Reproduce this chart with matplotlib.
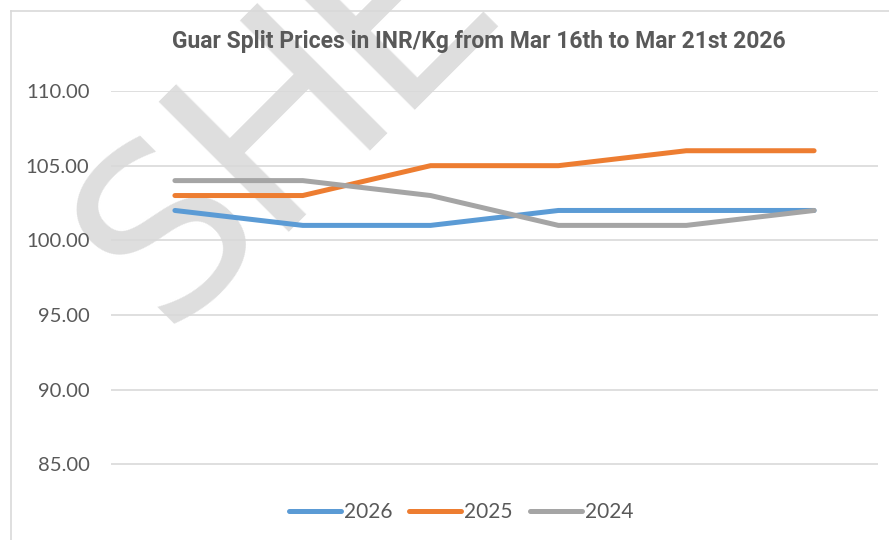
import matplotlib
matplotlib.use('Agg')
import matplotlib.pyplot as plt
from matplotlib.lines import Line2D

plt.rcParams['font.family'] = ['Lato', 'DejaVu Sans']

days = ['16-Mar', '17-Mar', '18-Mar', '19-Mar', '20-Mar', '21-Mar']
price_2026 = [102, 101, 101, 102, 102, 102]
price_2025 = [103, 103, 105, 105, 106, 106]
price_2024 = [104, 104, 103, 101, 101, 102]
y_ticks = [85, 90, 95, 100, 105, 110]
title = 'Guar Split Prices in INR/Kg from Mar 16th to Mar 21st 2026'

W, H = 889, 540
fig = plt.figure(figsize=(W / 100, H / 100), dpi=100)

# watermark letters (pixel origin, size), baseline rotated 45 deg, behind everything
wm = [('S', 165, 330, 168), ('H', 264, 232, 181), ('E', 390, 110, 181)]
for ch, px, py, size in wm:
    fig.text(px / W, 1 - py / H, ch, fontsize=size, color='#dedede',
             rotation=45, rotation_mode='anchor', ha='left', va='baseline',
             family='DejaVu Sans', zorder=-5)

# chart border (cropped on right and bottom)
border = '#d9d9d9'
fig.add_artist(Line2D([11 / W, 1], [1 - 11 / H, 1 - 11 / H], color=border, lw=1.2))
fig.add_artist(Line2D([11 / W, 11 / W], [0, 1 - 11 / H], color=border, lw=1.2))

ax = fig.add_axes([111 / W, 1 - 539 / H, (878 - 111) / W, (539 - 91) / H])
ax.patch.set_alpha(0)

x = range(len(days))
series = [(price_2026, '2026', '#5b9bd5'),
          (price_2025, '2025', '#ed7d31'),
          (price_2024, '2024', '#a5a5a5')]
for vals, lab, col in series:
    ax.plot(x, vals, color=col, lw=3.6, solid_capstyle='round',
            solid_joinstyle='round', label=lab, zorder=3)

ax.set_xlim(-0.5, len(days) - 0.5)
ax.set_ylim(80, 110)
ax.set_yticks(y_ticks)
ax.set_yticklabels(['{:.2f}'.format(v) for v in y_ticks])
ax.set_xticks([])
ax.tick_params(axis='y', length=0, pad=15.5, labelsize=14.6, labelcolor='#595959')
for v in y_ticks:
    ax.axhline(v, color='#d9d9d9', lw=1.2, zorder=1)
for s in ax.spines.values():
    s.set_visible(False)

fig.text(479 / W, 1 - 42 / H, title, ha='center', va='center',
         fontsize=16.5, fontweight='bold', family='Roboto',
         color='#595959', zorder=5)

leg = fig.legend(loc='center', bbox_to_anchor=(461 / W, 1 - 512 / H), ncol=3,
                 frameon=False, fontsize=15, handlelength=2.5,
                 columnspacing=0.8, handletextpad=0.15)
for t in leg.get_texts():
    t.set_color('#595959')

fig.savefig('out.png', dpi=100)
